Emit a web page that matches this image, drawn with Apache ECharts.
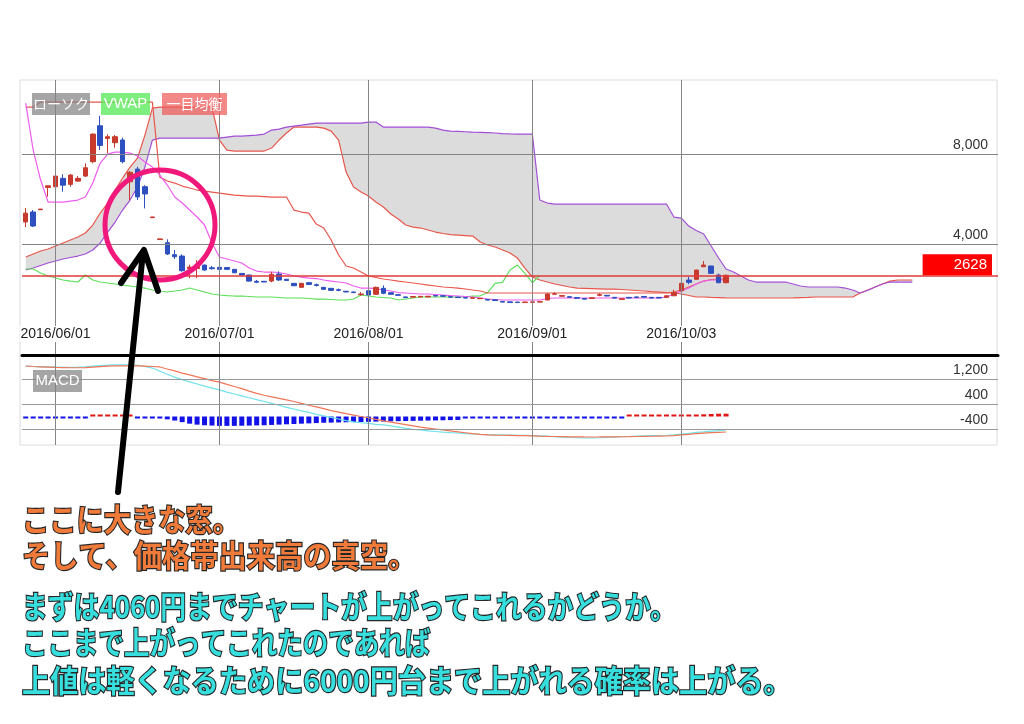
<!DOCTYPE html>
<html><head><meta charset="utf-8">
<script src="https://cdn.jsdelivr.net/npm/echarts@6/dist/echarts.min.js"></script>
<style>html,body{margin:0;padding:0;background:#fff;}#c{width:1024px;height:724px;}</style>
</head><body><div id="c"></div>
<script>
// ---- data (index 0 = 2016/05/26, one slot per trading day) ----
const dayCount = 131;
const dateLabels = {4:'2016/06/01', 26:'2016/07/01', 46:'2016/08/01', 68:'2016/09/01', 88:'2016/10/03'};
const priceTicks = [8000, 4000];
const lastPrice = 2628;
const macdTicks = [1200, 400, -400];

// [open, close, low, high]
const candles = [
[4990,5380,4765,5606],[5430,4810,4765,5517],[5530,5560,5520,5570],[6520,6590,6110,6600],[6550,7020,6180,7070],
[6920,6620,6330,7100],[6655,7067,6550,7110],[6800,6920,6770,7020],[7020,7390,6990,7585],[7660,8880,7585,8910],
[9250,8380,8170,9690],[8690,8765,8030,8870],[8500,8765,8280,8840],[8620,7660,7585,8720],[6770,7190,5960,7240],
[7330,6100,5960,7435],[6550,6230,5590,6620],[5180,5210,5170,5220],[4210,4240,4200,4250],[4070,3570,3525,4220],
[3540,3450,3350,3750],[3480,2830,2785,3556],[2920,2990,2500,3100],[2930,3010,2500,3300],[3080,2860,2840,3100],
[2960,2920,2880,3040],[2980,2890,2870,3000],[2970,2890,2870,2990],[2890,2740,2720,2900],[2710,2640,2620,2720],
[2640,2370,2350,2650],[2360,2320,2280,2420],[2360,2330,2320,2370],[2373,2670,2316,2785],[2683,2418,2390,2800],
[2450,2400,2390,2460],[2270,2165,2150,2280],[2094,2272,2080,2290],[2300,2225,2210,2310],[2210,2180,2130,2260],
[2094,2005,1990,2100],[2050,1960,1950,2060],[1990,1960,1920,2040],[1920,1890,1880,1930],[1890,1860,1850,1900],
[1770,1800,1720,1880],[1944,1754,1740,1960],[1785,2094,1760,2130],[2050,1830,1790,2180],[1855,1785,1770,1870],
[1770,1740,1730,1780],[1670,1640,1630,1680],[1660,1690,1650,1700],[1665,1695,1655,1705],[1670,1700,1660,1710],
[1730,1710,1700,1740],[1720,1700,1690,1730],[1680,1660,1650,1690],[1660,1640,1630,1670],[1640,1620,1610,1650],
[1610,1630,1600,1640],[1590,1610,1580,1620],[1560,1530,1520,1570],[1540,1510,1500,1550],[1470,1440,1430,1480],
[1450,1420,1410,1460],[1440,1420,1410,1450],[1420,1445,1410,1455],[1430,1450,1420,1460],[1440,1460,1430,1470],
[1533,1800,1520,1820],[1790,1810,1760,1870],[1700,1730,1690,1740],[1680,1650,1640,1690],[1640,1610,1600,1650],
[1600,1570,1560,1610],[1600,1630,1590,1640],[1740,1770,1700,1830],[1740,1710,1700,1750],[1650,1620,1610,1660],
[1560,1590,1550,1600],[1650,1620,1610,1660],[1670,1640,1630,1680],[1690,1660,1650,1700],[1650,1620,1610,1660],
[1650,1620,1610,1660],[1650,1720,1640,1730],[1720,1855,1710,1990],[1944,2270,1930,2280],[2417,2316,2230,2560],
[2449,2861,2440,2870],[3007,3082,2990,3259],[3038,2714,2700,3050],[2640,2298,2280,2700],[2298,2628,2280,2660]
];
const tenkan = [
10255,8174,6846,5872,5872,5872,5916,5960,6093,6713,
7598,7997,8085,8085,8041,7908,7643,7421,7067,6625,
6093,5828,5518,5208,4854,4056,3436,3348,3259,3171,
2949,2816,2772,2772,2750,2683,2595,2550,2506,2484,
2418,2373,2329,2285,2152,2063,2063,2041,1975,1931,
1864,1842,1820,1798,1798,1776,1754,1731,1709,1687,
1665,1621,1576,1554,1532,1532,1532,1532,1532,1532,
1599,1621,1621,1621,1621,1621,1621,1621,1621,1621,
1621,1621,1621,1621,1621,1621,1665,1798,1931,2063,
2241,2373,2418,2418,2418];
const kijun = [
10077,10077,10298,10298,10298,10298,10298,10298,10298,10298,
10298,10298,10298,10298,10298,10298,10298,10298,6974,6802,
6713,6580,6492,6403,6359,6315,6270,6226,6182,6160,
6137,6137,6115,6093,6093,6093,5517,5429,5384,4897,
4720,4189,3525,3038,2949,2772,2595,2529,2462,2418,
2373,2329,2285,2241,2196,2152,2108,2086,2063,2019,
1975,1931,1842,1842,1842,1842,1842,1842,1842,1842,
1842,1842,1842,1842,1842,1842,1842,1842,1842,1842,
1842,1842,1842,1842,1842,1842,1842,1886,1975,2108,
2241,2373,2440,2462,2462];
const spanA = [
3436,3569,3702,3790,3923,4056,4189,4322,4499,4853,
5384,5827,6403,6934,7421,7820,8838,10034,10077,10077,
10077,10077,10077,10077,10077,10077,8616,8174,8130,8130,
8130,8130,8130,8263,8617,8927,9193,9193,9193,9193,
9148,9015,8617,7200,6536,6315,6137,5872,5650,5340,
5119,4853,4764,4720,4632,4543,4477,4432,4410,4388,
4366,4100,3967,3879,3746,3613,3392,2949,2550,2418,
2329,2241,2174,2108,2063,2052,2041,2030,2019,2019,
1997,1975,1953,1931,1908,1886,1864,1842,1798,1731,
1665,1665,1650,1640,1630,1621,1621,1621,1621,1621,
1621,1621,1621,1630,1640,1650,1665,1665,1665,1665,
1665,1665,1842,1975,2108,2241,2373,2418,2418,2418];
const spanB = [
2860,2949,3060,3170,3259,3348,3414,3480,3569,3746,
4056,4543,4986,5517,5960,6536,7421,8617,8705,8705,
8705,8705,8705,8705,8705,8705,8705,8750,8794,8794,
8816,8838,8883,9060,9104,9193,9237,9281,9326,9370,
9370,9370,9370,9370,9370,9370,9414,9414,9193,9193,
9193,9193,9193,9193,9193,9148,9060,9015,9000,8985,
8970,8960,8945,8930,8900,8890,8883,8883,8883,5960,
5827,5783,5783,5783,5783,5783,5783,5783,5783,5783,
5783,5783,5783,5783,5783,5783,5783,5207,5163,4809,
4610,4455,3923,3392,2905,2772,2595,2418,2329,2329,
2329,2329,2329,2241,2152,2108,2108,2108,2108,2108,
2063,1975,1842,1953,2108,2241,2329,2329,2329,2329];
const chikou = [
2905,2905,2728,2595,2506,2418,2373,2329,2639,2418,
2329,2285,2241,2196,2152,2108,2063,1975,1931,1886,
1931,1975,2063,1975,1886,1798,1754,1731,1709,1709,
1687,1665,1665,1665,1643,1621,1621,1621,1599,1576,
1576,1554,1532,1532,1576,1754,1709,1665,1643,1621,
1532,1576,1621,1665,1665,1665,1665,1665,1665,1665,
1709,1720,1855,2270,2316,2861,3082,2714,2298,2628];
const macdLine = [
1610,1600,1590,1585,1580,1575,1575,1580,1590,1610,
1630,1645,1650,1650,1650,1640,1600,1550,1450,1350,
1260,1180,1110,1040,970,910,850,780,720,660,
600,540,480,420,360,290,240,180,130,70,
20,-30,-80,-130,-170,-200,-220,-250,-270,-300,
-340,-380,-410,-430,-460,-480,-500,-515,-528,-545,
-560,-570,-578,-584,-590,-595,-600,-605,-610,-618,
-630,-645,-660,-672,-680,-688,-688,-680,-670,-658,
-648,-640,-630,-622,-615,-608,-600,-585,-565,-540,
-510,-490,-465,-450,-432];
const signalLine = [
1616,1600,1590,1580,1570,1565,1560,1560,1565,1580,
1595,1610,1620,1620,1620,1620,1615,1600,1585,1520,
1460,1390,1330,1270,1210,1150,1100,1030,960,890,
810,740,680,630,580,530,480,420,360,310,
250,190,140,90,45,0,-40,-90,-140,-180,
-220,-260,-300,-340,-370,-400,-430,-460,-490,-520,
-550,-570,-585,-595,-600,-605,-610,-615,-620,-628,
-635,-640,-645,-650,-652,-655,-656,-655,-652,-650,
-648,-645,-640,-636,-632,-628,-624,-610,-590,-570,
-550,-530,-515,-505,-496];
const macdHist = [
-20,-20,-25,-20,-20,-20,-20,-20,-25,20,
30,50,60,50,30,-20,-20,-30,-50,-90,
-130,-180,-230,-260,-280,-290,-300,-300,-300,-295,
-290,-285,-280,-270,-260,-250,-240,-230,-220,-210,
-200,-195,-190,-185,-180,-175,-170,-165,-160,-155,
-150,-145,-140,-135,-130,-125,-120,-115,-110,-40,
-40,-40,-35,-35,-30,-30,-30,-30,-30,-25,
-25,-25,-25,-20,-20,-20,-20,-20,-20,-20,
-20,20,20,25,25,25,30,30,30,30,
35,70,80,90,90];

// annotation texts
const notesOrange = ['ここに大きな窓。', 'そして、価格帯出来高の真空。'];
const notesCyan = ['まずは4060円までチャートが上がってこれるかどうか。', 'ここまで上がってこれたのであれば', '上値は軽くなるために6000円台まで上がれる確率は上がる。'];

// ---- chart ----
const cats = Array.from({length: dayCount}, (_, i) => String(i));
const labelIdx = Object.keys(dateLabels).map(Number);
const cloudLow = spanA.map((a, i) => Math.min(a, spanB[i]));
const cloudBand = spanA.map((a, i) => Math.abs(a - spanB[i]));
const fmt = v => v.toLocaleString('en-US');
const GRID = '#858585';
const vLines = labelIdx.map(i => ({xAxis: cats[i], label: {show: false}, lineStyle: {color: GRID, width: 1, type: 'solid'}}));
const tickLabel = {show: true, position: 'insideEndTop', color: '#333', fontSize: 14, fontFamily: 'Liberation Sans', distance: [10, 2]};
const hPrice = priceTicks.map(v => ({yAxis: v, lineStyle: {color: GRID, width: 1, type: 'solid'}, label: Object.assign({}, tickLabel, {formatter: fmt(v)})}));
const hMacd = macdTicks.map(v => ({yAxis: v, lineStyle: {color: '#9a9a9a', width: 1, type: 'solid'}, label: Object.assign({}, tickLabel, {formatter: fmt(v)})}));

const noSym = {symbol: 'none', showSymbol: false};
const line = (name, data, color, z, xi) => Object.assign({
  type: 'line', name, data, xAxisIndex: xi || 0, yAxisIndex: xi || 0, z,
  lineStyle: {color, width: 1.2}, itemStyle: {color}, silent: true
}, noSym);

const FONT_BIG = 'bold 29px "Noto Sans CJK JP"';
// target widths of the lines (narrower kana in the original font)
const noteScale = [0.94, 0.975, 0.89, 0.88, 0.97];
const noteY = [520, 556, 607, 643, 681];
const notes = notesOrange.map(t => [t, '#f07a3a']).concat(notesCyan.map(t => [t, '#36dede']));
const noteGraphics = notes.map(([t, col], k) => ({
  type: 'text', z: 60, x: 22, y: noteY[k], scaleX: noteScale[k], scaleY: 1.04,
  style: {x: 0, y: 0, text: t, fill: col, stroke: '#262626', lineWidth: 2.2, font: FONT_BIG, verticalAlign: 'middle'}
}));

const chart = echarts.init(document.getElementById('c'));
const option = {
  animation: false,
  grid: [
    {left: 22, right: 26, top: 80, height: 275, outerBoundsMode: 'none'},
    {left: 22, right: 26, top: 357, height: 88, outerBoundsMode: 'none'}
  ],
  xAxis: [
    {type: 'category', gridIndex: 0, data: cats, boundaryGap: true, z: 5,
     axisLine: {show: true, onZero: false, lineStyle: {color: '#000', width: 3}}, axisTick: {show: false},
     axisLabel: {inside: true, margin: 13, interval: (i) => dateLabels[i] !== undefined,
       formatter: (v, i) => dateLabels[i] || '', color: '#222', fontSize: 14, fontFamily: 'Liberation Sans',
       backgroundColor: '#fff', padding: [1, 1]},
     splitLine: {show: false}},
    {type: 'category', gridIndex: 1, data: cats, boundaryGap: true,
     axisLine: {show: false, onZero: false}, axisTick: {show: false}, axisLabel: {show: false}, splitLine: {show: false}}
  ],
  yAxis: [
    {type: 'value', gridIndex: 0, min: -903, max: 11277, show: false, splitLine: {show: false}},
    {type: 'value', gridIndex: 1, min: -912, max: 1904, show: false, splitLine: {show: false}}
  ],
  series: [
    Object.assign({type: 'line', name: 'cloudLow', data: cloudLow, stack: 'cloud', z: 0, silent: true,
      lineStyle: {opacity: 0}}, noSym),
    Object.assign({type: 'line', name: 'cloudBand', data: cloudBand, stack: 'cloud', z: 0, silent: true,
      lineStyle: {opacity: 0}, areaStyle: {color: '#dcdcdc', opacity: 1}}, noSym),
    Object.assign({type: 'line', name: 'grid0', data: cats.map(() => null), z: 1, silent: true,
      markLine: {silent: true, symbol: ['none', 'none'], animation: false, data: vLines.concat(hPrice)}}, noSym),
    line('spanA', spanA, '#e8574c', 2),
    line('spanB', spanB, '#a24fd8', 2),
    line('chikou', chikou, '#5ee05a', 2),
    line('kijun', kijun, '#e8574c', 2),
    line('tenkan', tenkan, '#ee5cee', 2),
    {type: 'candlestick', name: 'ローソク', data: candles, z: 3, barWidth: 5, silent: true,
     itemStyle: {color: '#c83a2e', color0: '#2d4fc0', borderColor: '#c83a2e', borderColor0: '#2d4fc0', borderWidth: 1},
     markLine: {silent: true, symbol: ['none', 'none'], animation: false, data: [
       {yAxis: lastPrice, lineStyle: {color: '#e03a3a', width: 1.5, type: 'solid'},
        label: {show: true, position: 'insideEndTop', formatter: String(lastPrice), color: '#fff',
          backgroundColor: '#ff0000', padding: [3, 5, 3, 31], fontSize: 15, fontFamily: 'Liberation Sans', distance: [6, 0]}}
     ]}},
    {type: 'bar', name: 'hist', data: macdHist, xAxisIndex: 1, yAxisIndex: 1, barWidth: 5, barMinHeight: 2, z: 2, silent: true,
     itemStyle: {color: p => p.value >= 0 ? '#e01414' : '#1212e8'},
     markLine: {silent: true, symbol: ['none', 'none'], animation: false, data: vLines.concat(hMacd)}},
    line('macd', macdLine, '#70e2ea', 3, 1),
    line('signal', signalLine, '#ef7656', 3, 1)
  ],
  graphic: [
    {type: 'rect', z: -1, shape: {x: 20, y: 80, width: 977, height: 365}, style: {fill: 'none', stroke: '#dcdcdc', lineWidth: 1}},
    {type: 'rect', z: 50, shape: {x: 32, y: 93, width: 58, height: 22}, style: {fill: 'rgba(130,130,130,0.72)'}},
    {type: 'text', z: 51, style: {x: 61, y: 104, text: 'ローソク', fill: '#fff', font: '14px "Noto Sans CJK JP"', align: 'center', verticalAlign: 'middle'}},
    {type: 'rect', z: 50, shape: {x: 101, y: 93, width: 49, height: 22}, style: {fill: 'rgba(90,235,90,0.78)'}},
    {type: 'text', z: 51, style: {x: 125.5, y: 104, text: 'VWAP', fill: '#fff', font: '15px "Liberation Sans"', align: 'center', verticalAlign: 'middle'}},
    {type: 'rect', z: 50, shape: {x: 162, y: 93, width: 65, height: 22}, style: {fill: 'rgba(238,90,90,0.72)'}},
    {type: 'text', z: 51, style: {x: 194.5, y: 104, text: '一目均衡', fill: '#fff', font: '14px "Noto Sans CJK JP"', align: 'center', verticalAlign: 'middle'}},
    {type: 'rect', z: 50, shape: {x: 33, y: 370, width: 49, height: 22}, style: {fill: 'rgba(130,130,130,0.72)'}},
    {type: 'text', z: 51, style: {x: 57.5, y: 381, text: 'MACD', fill: '#fff', font: '15px "Liberation Sans"', align: 'center', verticalAlign: 'middle'}},
    {type: 'circle', z: 60, shape: {cx: 160, cy: 225, r: 55}, style: {fill: 'none', stroke: '#f0187a', lineWidth: 5}},
    {type: 'polyline', z: 60, shape: {points: [[118, 492], [143, 252]]}, style: {stroke: '#000', lineWidth: 6, lineCap: 'round', fill: 'none'}},
    {type: 'polyline', z: 60, shape: {points: [[121, 283], [144, 250], [158, 291]]}, style: {stroke: '#000', lineWidth: 6, lineCap: 'round', lineJoin: 'round', fill: 'none'}}
  ].concat(noteGraphics)
};
chart.setOption(option);
</script>
</body></html>
